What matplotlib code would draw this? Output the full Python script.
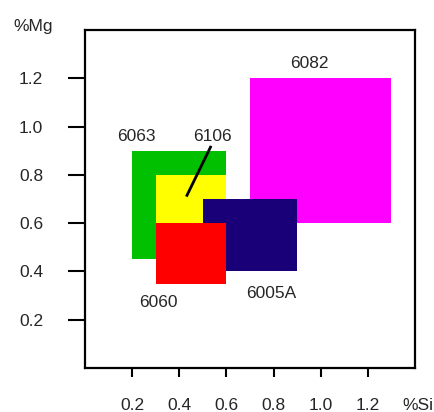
import matplotlib
matplotlib.use("Agg")
import matplotlib.pyplot as plt
from matplotlib.patches import Rectangle

# alloy ranges: (Si min, Si max), (Mg min, Mg max)
alloys = ["6063", "6106", "6082", "6005A", "6060"]
si_ranges = [(0.2, 0.6), (0.3, 0.6), (0.7, 1.3), (0.5, 0.9), (0.3, 0.6)]
mg_ranges = [(0.45, 0.9), (0.35, 0.8), (0.6, 1.2), (0.4, 0.7), (0.35, 0.6)]
colors = ["#00c000", "#ffff00", "#ff00ff", "#1a0078", "#ff0000"]

label_pos = {"6063": (0.22, 0.96), "6106": (0.54, 0.96), "6082": (0.95, 1.26),
             "6005A": (0.79, 0.31), "6060": (0.31, 0.27)}
leader_x = [0.535, 0.43]
leader_y = [0.92, 0.71]

x_ticks = [0.2, 0.4, 0.6, 0.8, 1.0, 1.2]
y_ticks = [0.2, 0.4, 0.6, 0.8, 1.0, 1.2]

plt.rcParams['font.family'] = ['Liberation Sans', 'DejaVu Sans']
txt = "#262626"
fs = 12.5

fig = plt.figure(figsize=(4.35, 4.12), dpi=100)
ax = fig.add_axes([85/435, 44/412, 330/435, 338/412])

for name, (x0, x1), (y0, y1), c in zip(alloys, si_ranges, mg_ranges, colors):
    ax.add_patch(Rectangle((x0, y0), x1 - x0, y1 - y0, facecolor=c, edgecolor="none"))
    lx, ly = label_pos[name]
    ax.text(lx, ly, name, ha="center", va="center", fontsize=fs, color=txt)

ax.plot(leader_x, leader_y, color="black", lw=2, solid_capstyle="butt")

ax.set_xlim(0, 1.4)
ax.set_ylim(0, 1.4)
ax.set_xticks(x_ticks)
ax.set_yticks(y_ticks)
ax.set_xticklabels([f"{v:.1f}" for v in x_ticks], fontsize=fs, color=txt)
ax.set_yticklabels([f"{v:.1f}" for v in y_ticks], fontsize=fs, color=txt)
ax.tick_params(axis="x", length=6.5, width=1.5, pad=15, direction="out")
ax.tick_params(axis="y", length=12, width=1.5, pad=18, direction="out")
for s in ax.spines.values():
    s.set_linewidth(1.6)

fig.text(33/435, 1 - 27/412, "%Mg", ha="center", va="center", fontsize=fs, color=txt)
fig.text(433/435, 1 - 405/412, "%Si", ha="right", va="center", fontsize=fs, color=txt)

fig.savefig("out.png", dpi=100)
